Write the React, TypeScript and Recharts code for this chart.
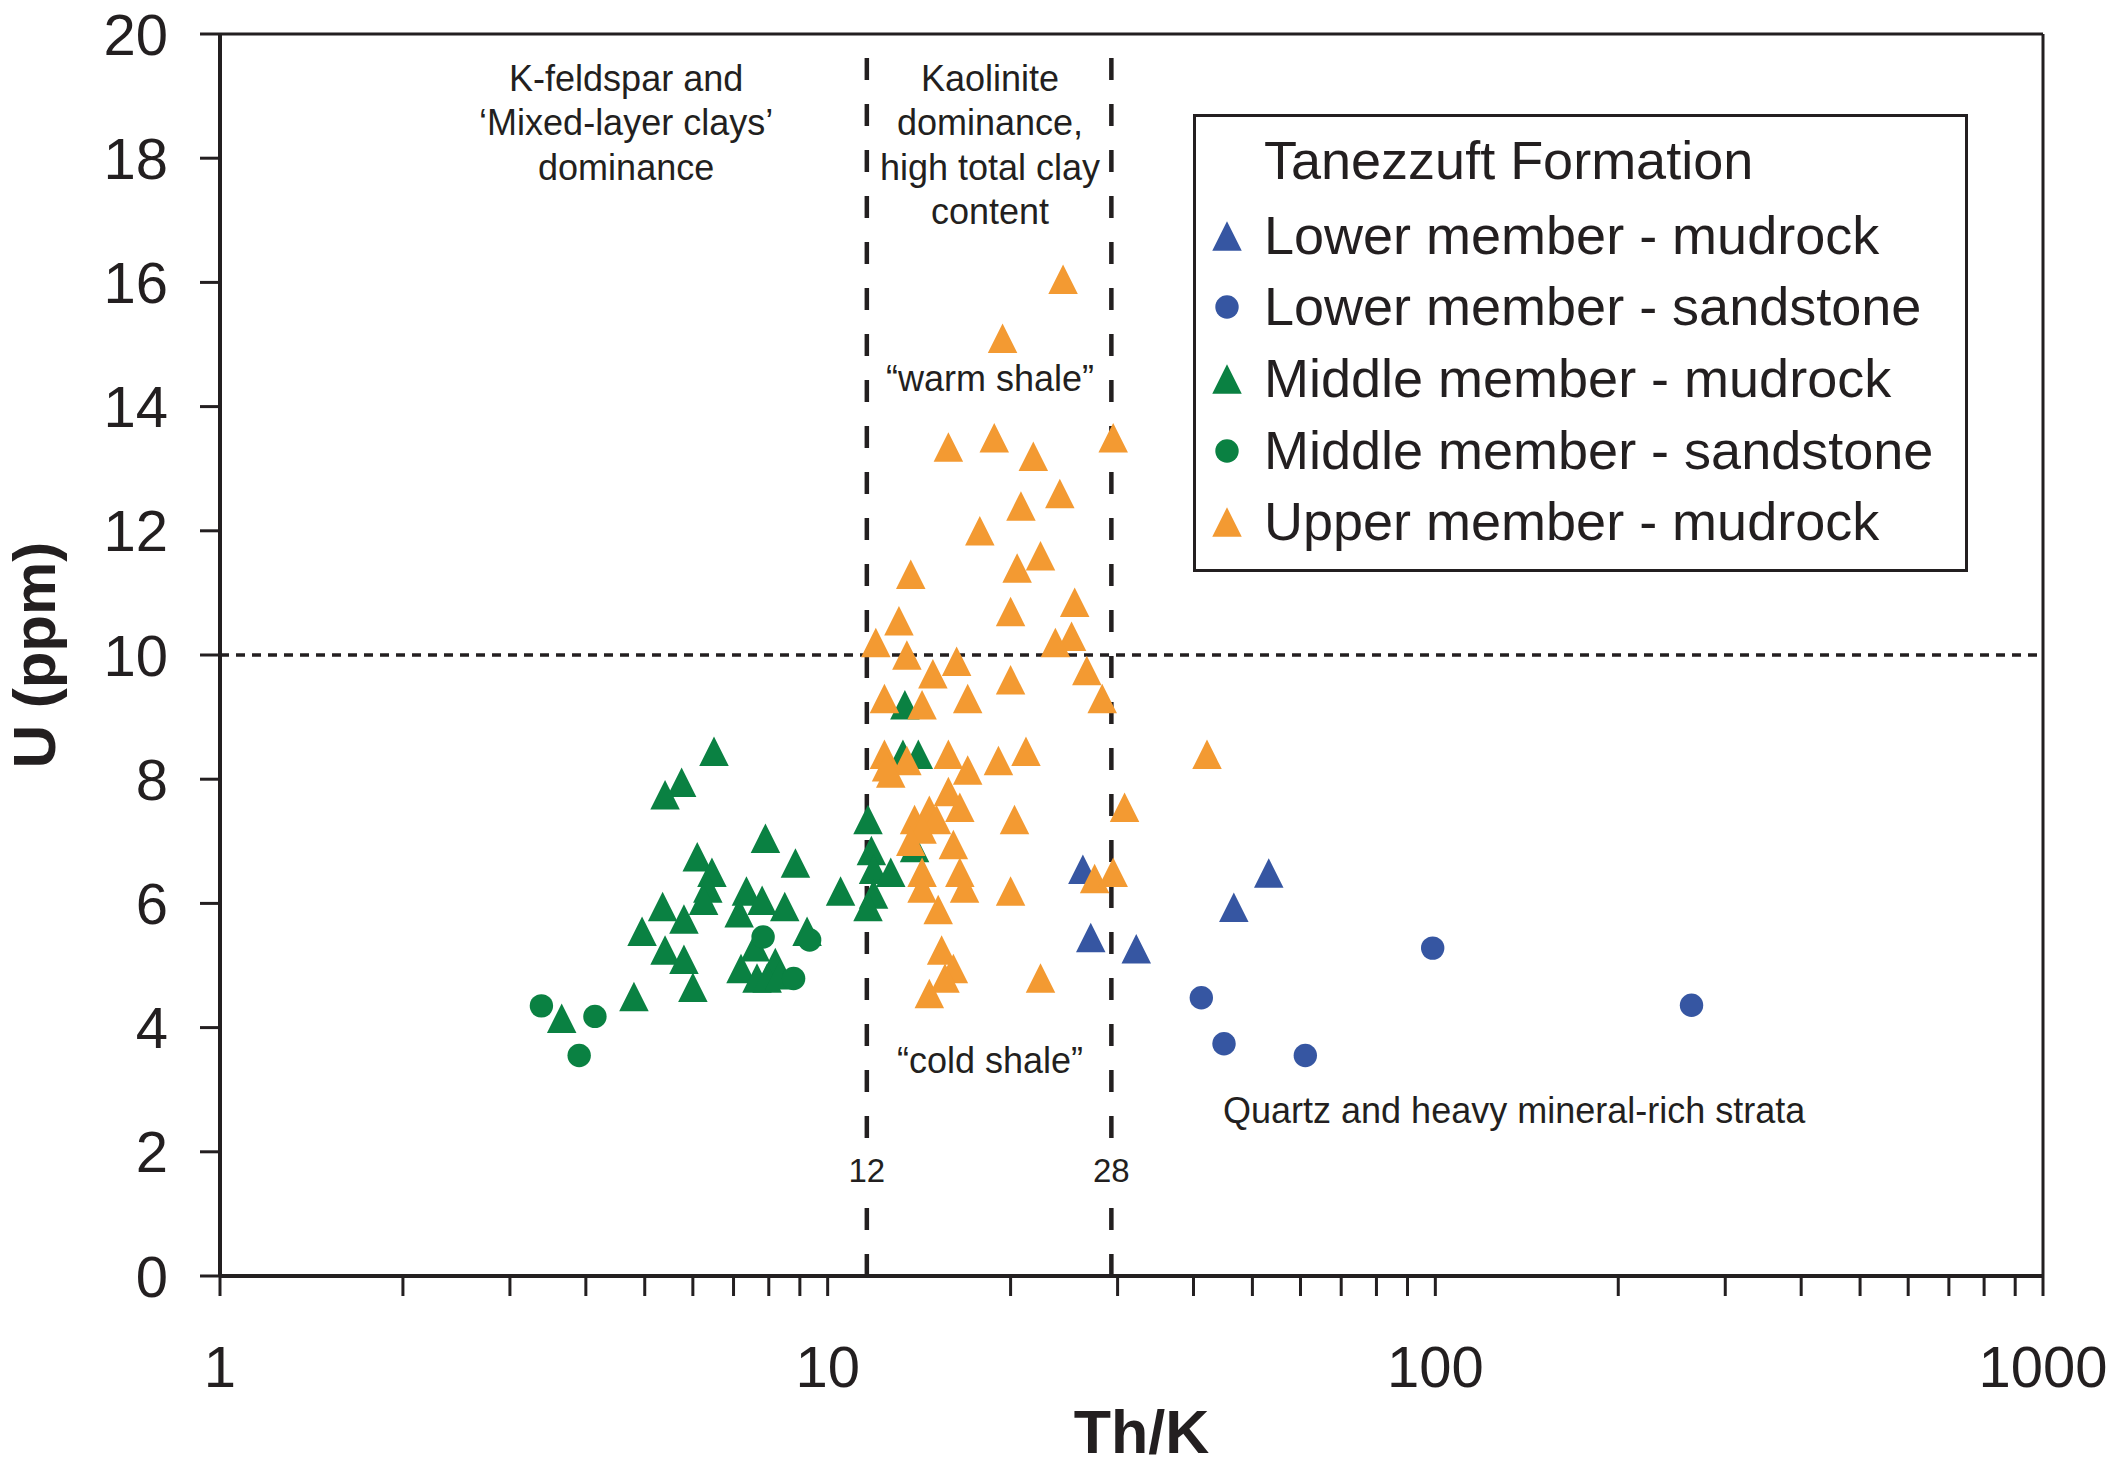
import { Legend, ReferenceDot, ReferenceLine, Scatter, ScatterChart, XAxis, YAxis } from "recharts";

const INK = "#231f20";
const FONT = '"Liberation Sans", Arial, Helvetica, sans-serif';
const BLUE = "#3656a2";
const GREEN = "#0a8142";
const ORANGE = "#f39a32";

const X_TICKS = [
  1, 2, 3, 4, 5, 6, 7, 8, 9, 10, 20, 30, 40, 50, 60, 70, 80, 90, 100, 200, 300, 400, 500, 600, 700, 800, 900,
  1000,
];
const Y_TICKS = [0, 2, 4, 6, 8, 10, 12, 14, 16, 18, 20];

// [Th/K, U (ppm)]
const LOWER_MUDROCK: [number, number][] = [
  [26.3, 6.55], [27.1, 5.45], [32.2, 5.27], [53.2, 6.49], [46.6, 5.94],
];
const LOWER_SANDSTONE: [number, number][] = [
  [41.2, 4.48], [44.9, 3.74], [61.1, 3.55], [99, 5.28], [264, 4.36],
];
const MIDDLE_MUDROCK: [number, number][] = [
  [6.5, 8.45], [5.75, 7.95], [5.4, 7.75], [7.9, 7.05], [8.85, 6.65], [6.1, 6.75], [6.45, 6.5],
  [6.35, 6.25], [6.25, 6.05], [7.35, 6.2], [7.8, 6.05], [8.5, 5.95], [7.15, 5.85], [5.35, 5.95],
  [5.8, 5.75], [4.95, 5.55], [5.4, 5.25], [5.8, 5.1], [6.0, 4.65], [4.8, 4.5], [3.65, 4.15],
  [9.25, 5.55], [7.6, 5.3], [7.2, 4.95], [7.65, 4.8], [8.2, 5.05], [7.95, 4.8], [8.35, 4.85],
  [10.5, 6.2], [11.65, 7.35], [11.8, 6.85], [11.9, 6.55], [12.7, 6.5], [11.9, 6.15], [11.65, 5.95],
  [13.4, 9.2], [13.3, 8.4], [14.1, 8.4], [13.9, 6.9],
];
const MIDDLE_SANDSTONE: [number, number][] = [
  [3.38, 4.35], [4.14, 4.18], [3.9, 3.55], [7.83, 5.46], [8.79, 4.79], [9.34, 5.41],
];
const UPPER_MUDROCK: [number, number][] = [
  [24.4, 16.05], [19.4, 15.1], [15.8, 13.35], [18.8, 13.5], [21.8, 13.2], [29.5, 13.5], [24.1, 12.6],
  [20.8, 12.4], [17.8, 12.0], [22.4, 11.6], [20.5, 11.4], [13.7, 11.3], [25.5, 10.85], [20.0, 10.7],
  [13.1, 10.55], [25.2, 10.3], [23.7, 10.2], [12.0, 10.2], [13.5, 10.0], [14.9, 9.7], [16.3, 9.9],
  [20.0, 9.6], [26.7, 9.75], [28.3, 9.3], [12.4, 9.3], [14.3, 9.2], [17.0, 9.3], [12.4, 8.4],
  [12.7, 8.1], [13.5, 8.3], [15.8, 8.4], [17.0, 8.15], [19.1, 8.3], [21.2, 8.45], [15.8, 7.8],
  [16.5, 7.55], [20.3, 7.35], [13.9, 7.35], [14.7, 7.5], [15.1, 7.35], [14.3, 7.2], [13.7, 7.0],
  [16.1, 6.95], [14.3, 6.5], [16.5, 6.5], [14.3, 6.25], [16.8, 6.25], [20.0, 6.2], [15.2, 5.9],
  [15.4, 5.25], [16.1, 4.95], [15.6, 4.8], [22.4, 4.8], [14.7, 4.55], [27.5, 6.4], [29.5, 6.5],
  [30.8, 7.55], [42.1, 8.4], [12.5, 8.2],
];

const SERIES = [
  { name: "Lower member - mudrock", color: BLUE, kind: "triangle", points: LOWER_MUDROCK },
  { name: "Lower member - sandstone", color: BLUE, kind: "circle", points: LOWER_SANDSTONE },
  { name: "Middle member - mudrock", color: GREEN, kind: "triangle", points: MIDDLE_MUDROCK },
  { name: "Middle member - sandstone", color: GREEN, kind: "circle", points: MIDDLE_SANDSTONE },
  { name: "Upper member - mudrock", color: ORANGE, kind: "triangle", points: UPPER_MUDROCK },
];

// clay-mineral boundaries, drawn where the figure puts them (labelled 12 and 28)
const TH_K_LIMITS = [
  { at: 11.6, label: "12" },
  { at: 29.3, label: "28" },
];
const U_LIMIT = 10;

const ANNOTATIONS = [
  { x: 4.66, y: 19.29, lines: ["K-feldspar and", "\u2018Mixed-layer clays\u2019", "dominance"] },
  { x: 18.5, y: 19.29, lines: ["Kaolinite", "dominance,", "high total clay", "content"] },
  { x: 18.5, y: 14.45, lines: ["\u201cwarm shale\u201d"] },
  { x: 18.5, y: 3.48, lines: ["\u201ccold shale\u201d"] },
  { x: 134.8, y: 2.67, lines: ["Quartz and heavy mineral-rich strata"] },
];
const LINE_STEP = 0.7166; // in U units

const MARK = 29.5;
const DOT_R = 11.7;

function triangle(color: string) {
  return (props: any) => {
    const { cx, cy } = props;
    const h = MARK / 2;
    return <path d={`M${cx},${cy - h}L${cx + h},${cy + h}L${cx - h},${cy + h}Z`} fill={color} />;
  };
}

function circle(color: string) {
  return (props: any) => <circle cx={props.cx} cy={props.cy} r={DOT_R} fill={color} />;
}

function XTick(props: any) {
  const { x, y, payload } = props;
  const lg = Math.log10(payload.value);
  if (Math.abs(lg - Math.round(lg)) > 1e-9) return <g />;
  return (
    <text x={x} y={y} dy="0.71em" textAnchor="middle" fontSize={58} fill={INK}>
      {payload.value}
    </text>
  );
}

function LegendBox(props: any) {
  const items = props.payload ?? [];
  const rowH = 71.7;
  return (
    <div
      style={{
        boxSizing: "border-box",
        width: 775,
        height: 458,
        border: `3px solid ${INK}`,
        background: "#fff",
        paddingTop: 8,
        fontFamily: FONT,
        fontSize: 54,
        lineHeight: `${rowH}px`,
        color: INK,
      }}
    >
      <div style={{ paddingLeft: 68, marginBottom: 3, whiteSpace: "nowrap" }}>Tanezzuft Formation</div>
      {items.map((it: any) => (
        <div key={it.value} style={{ display: "flex", alignItems: "center", height: rowH }}>
          <svg width={30} height={30} style={{ marginLeft: 16, marginRight: 22, flex: "none" }}>
            {it.type === "circle" ? (
              <circle cx={15} cy={15} r={DOT_R} fill={it.color} />
            ) : (
              <path d={`M15,0.25L29.75,29.75L0.25,29.75Z`} fill={it.color} />
            )}
          </svg>
          <span style={{ whiteSpace: "nowrap" }}>{it.value}</span>
        </div>
      ))}
    </div>
  );
}

export default function App() {
  return (
    <div style={{ position: "absolute", left: 0, top: 0, fontFamily: FONT, background: "#fff" }}>
      <ScatterChart width={2112} height={1469} margin={{ top: 34, right: 69, bottom: 0, left: 0 }}>
        <XAxis
          type="number"
          dataKey="x"
          scale="log"
          domain={[1, 1000]}
          ticks={X_TICKS}
          interval={0}
          allowDataOverflow
          height={193}
          tickSize={20}
          tickMargin={50}
          tick={XTick}
          axisLine={{ stroke: INK, strokeWidth: 4 }}
          tickLine={{ stroke: INK, strokeWidth: 3 }}
          label={{
            value: "Th/K",
            position: "insideBottom",
            offset: 16,
            dx: 10,
            fill: INK,
            fontSize: 61,
            fontWeight: "bold",
          }}
        />
        <YAxis
          type="number"
          dataKey="y"
          domain={[0, 20]}
          ticks={Y_TICKS}
          interval={0}
          allowDataOverflow
          width={220}
          tickSize={20}
          tickMargin={32}
          tick={{ fontSize: 58, fill: INK }}
          axisLine={{ stroke: INK, strokeWidth: 4 }}
          tickLine={{ stroke: INK, strokeWidth: 3 }}
          label={{
            value: "U (ppm)",
            angle: -90,
            position: "insideLeft",
            offset: 34,
            fill: INK,
            fontSize: 60,
            fontWeight: "bold",
            style: { textAnchor: "middle" },
          }}
        />
        <ReferenceLine y={20} stroke={INK} strokeWidth={3} />
        <ReferenceLine x={1000} stroke={INK} strokeWidth={3} />
        <ReferenceLine y={U_LIMIT} stroke={INK} strokeWidth={3.5} strokeDasharray="9 7" />
        {TH_K_LIMITS.map((l) => (
          <ReferenceLine
            key={l.label}
            x={l.at}
            stroke={INK}
            strokeWidth={4.5}
            strokeDasharray="22 24"
            label={{
              value: l.label,
              position: "insideBottom",
              offset: 94,
              fill: INK,
              fontSize: 33,
              stroke: "#fff",
              strokeWidth: 14,
              style: { paintOrder: "stroke" },
            }}
          />
        ))}
        {ANNOTATIONS.flatMap((a) =>
          a.lines.map((line, i) => (
            <ReferenceDot
              key={`${a.x}-${line}`}
              x={a.x}
              y={a.y - i * LINE_STEP}
              r={1}
              fill="none"
              stroke="none"
              label={{ value: line, position: "center", fill: INK, fontSize: 36 }}
            />
          )),
        )}
        {SERIES.map((s) => (
          <Scatter
            key={s.name}
            name={s.name}
            data={s.points.map(([x, y]) => ({ x, y }))}
            fill={s.color}
            legendType={s.kind === "circle" ? "circle" : "triangle"}
            shape={s.kind === "circle" ? circle(s.color) : triangle(s.color)}
            isAnimationActive={false}
          />
        ))}
        <Legend
          layout="vertical"
          align="center"
          verticalAlign="middle"
          wrapperStyle={{ left: 1193, top: 114, width: 775, height: 458 }}
          content={LegendBox}
        />
      </ScatterChart>
    </div>
  );
}
